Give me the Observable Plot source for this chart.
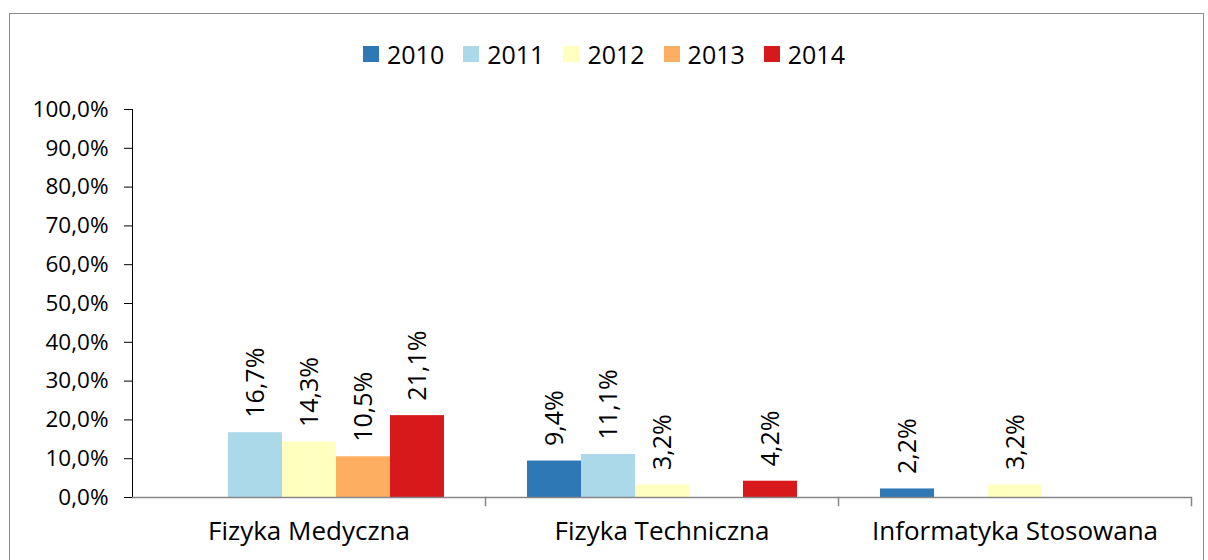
<!DOCTYPE html>
<html>
<head>
<meta charset="utf-8">
<script src="https://cdn.jsdelivr.net/npm/d3@7"></script>
<script src="https://cdn.jsdelivr.net/npm/@observablehq/plot@0.6"></script>
<style>
  html, body { margin: 0; padding: 0; background: #fff; }
  #wrap { position: relative; width: 1208px; height: 560px; overflow: hidden; font-family: "Open Sans", sans-serif; }
  #border { position: absolute; left: 9px; top: 13px; width: 1195px; height: 600px; border: 1.5px solid #8c8c8c; box-sizing: border-box; }
  #legend { position: absolute; top: 37px; left: 0; width: 1208px; display: flex; justify-content: center; align-items: center; font-size: 25px; color: #000; }
  .item { display: flex; align-items: center; margin: 0 9.5px; }
  .sw { width: 16px; height: 16px; margin-right: 8px; }
  #chart { position: absolute; left: 0; top: 80px; }
</style>
</head>
<body>
<div id="wrap">
  <div id="border"></div>
  <div id="legend"></div>
  <div id="chart"></div>
</div>
<script>
const categories = ["Fizyka Medyczna", "Fizyka Techniczna", "Informatyka Stosowana"];
const years = ["2010", "2011", "2012", "2013", "2014"];
const colors = ["#2e78b5", "#abd9e9", "#ffffbf", "#fdae61", "#d7191c"];
// values per year, in category order (null = no bar)
const values2010 = [null, 9.4, 2.2];
const values2011 = [16.7, 11.1, null];
const values2012 = [14.3, 3.2, 3.2];
const values2013 = [10.5, null, null];
const values2014 = [21.1, 4.2, null];
const yTicks = [0, 10, 20, 30, 40, 50, 60, 70, 80, 90, 100];

const series = [values2010, values2011, values2012, values2013, values2014];
const rows = [];
years.forEach((yr, j) => {
  categories.forEach((cat, i) => {
    const v = series[j][i];
    if (v != null) rows.push({cat, year: yr, value: v});
  });
});

const fmt = d => d.toFixed(1).replace(".", ",") + "%";
const gray = "#868686";

// legend
const legend = document.getElementById("legend");
years.forEach((yr, j) => {
  const it = document.createElement("div");
  it.className = "item";
  const sw = document.createElement("div");
  sw.className = "sw";
  sw.style.background = colors[j];
  const tx = document.createElement("span");
  tx.textContent = yr;
  it.appendChild(sw); it.appendChild(tx);
  legend.appendChild(it);
});

const plot = Plot.plot({
  width: 1208,
  height: 480,
  marginTop: 29,
  marginBottom: 63,
  marginLeft: 132,
  marginRight: 17,
  style: {fontFamily: "Open Sans, sans-serif", fontSize: "22.5px", color: "#000", background: "transparent"},
  fx: {domain: categories, padding: 0, label: null, axis: "bottom", tickSize: 0, tickPadding: 24},
  x: {domain: years, paddingInner: 0, paddingOuter: 0.768, axis: null},
  y: {domain: [0, 100], ticks: yTicks, tickFormat: fmt, tickSize: 8, tickPadding: 16, label: null, line: true},
  color: {domain: years, range: colors},
  marks: [
    Plot.barY(rows, {fx: "cat", x: "year", y: "value", fill: "year"}),
    Plot.text(rows, {fx: "cat", x: "year", y: "value", text: d => fmt(d.value), rotate: -90, textAnchor: "start", dy: -15, fontSize: 25, fill: "#000"}),
    Plot.ruleY([0], {stroke: gray, strokeWidth: 1.5}),
    Plot.frame({anchor: "right", insetTop: 388, insetBottom: -8, stroke: gray, strokeWidth: 1.5})
  ]
});
plot.querySelectorAll("[aria-label='fx-axis tick label']").forEach(e => e.setAttribute("font-size", 26));
document.getElementById("chart").appendChild(plot);
</script>
</body>
</html>
